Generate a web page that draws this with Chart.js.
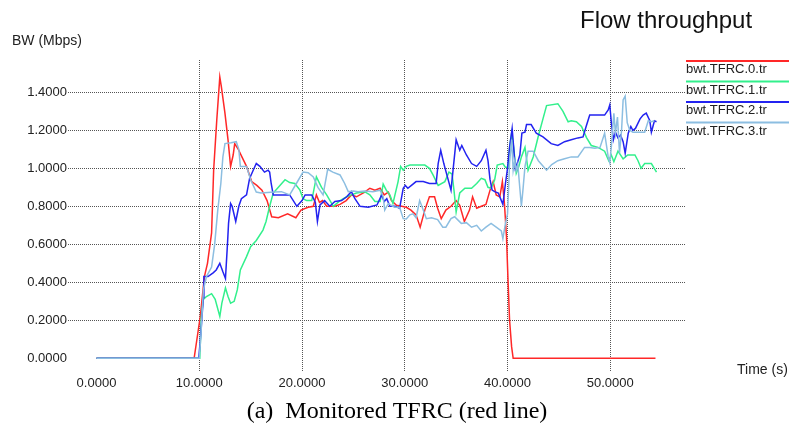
<!DOCTYPE html>
<html>
<head>
<meta charset="utf-8">
<title>Flow throughput</title>
<script src="https://cdn.jsdelivr.net/npm/chart.js@4.4.1/dist/chart.umd.min.js"></script>
<style>
  body { margin: 0; background: #fff; }
  #chart { display: block; }
</style>
</head>
<body>
<canvas id="chart" width="789" height="434"></canvas>
<script>
// Tick labels
const xTicks = [0, 10, 20, 30, 40, 50];
const yTicks = [0, 0.2, 0.4, 0.6, 0.8, 1.0, 1.2, 1.4];

const seriesNames = ["bwt.TFRC.0.tr", "bwt.TFRC.1.tr", "bwt.TFRC.2.tr", "bwt.TFRC.3.tr"];
const seriesColors = ["rgb(255, 40, 40)", "rgb(50, 240, 140)", "rgb(35, 35, 240)", "rgb(140, 190, 225)"];

// TFRC.0 (monitored flow, red)
const tfrc0Time = [0, 9.5, 10.1, 10.5, 10.8, 11.2, 11.4, 11.7, 12.0, 12.15, 12.5, 12.8, 13.05, 13.3, 13.45,
  13.8, 14.15, 14.6, 15.1, 15.6, 16.1, 16.6, 17.05, 17.7, 18.6, 19.4, 19.9, 20.6, 21.1, 21.4, 21.7, 22.0,
  22.4, 23.2, 23.7, 24.3, 24.8, 25.3, 25.8, 26.1, 26.6, 27.1, 27.6, 28.0, 28.4, 28.7, 29.2, 29.7, 30.15,
  30.6, 31.1, 31.5, 31.95, 32.4, 32.9, 33.2, 33.55, 34.0, 34.5, 35.0, 35.35, 35.8, 36.3, 36.6, 37.0, 37.45,
  37.9, 38.3, 38.6, 38.9, 39.25, 39.5, 39.7, 39.9, 40.05, 40.2, 40.4, 40.55, 54.4];
const tfrc0Bw = [0, 0, 0.22, 0.43, 0.50, 0.66, 0.99, 1.25, 1.48, 1.43, 1.29, 1.15, 1.01, 1.07, 1.13,
  1.10, 1.06, 1.01, 0.93, 0.91, 0.885, 0.83, 0.745, 0.74, 0.76, 0.74, 0.78, 0.795, 0.80, 0.86, 0.82, 0.83,
  0.80, 0.80, 0.81, 0.83, 0.86, 0.85, 0.865, 0.875, 0.895, 0.885, 0.895, 0.86, 0.875, 0.83, 0.805, 0.80, 0.795,
  0.78, 0.755, 0.69, 0.78, 0.85, 0.85, 0.79, 0.735, 0.78, 0.80, 0.83, 0.805, 0.72, 0.78, 0.85, 0.79, 0.80,
  0.81, 0.885, 0.93, 0.86, 0.85, 0.93, 0.815, 0.64, 0.41, 0.20, 0.06, 0, 0];

// TFRC.1 (green)
const tfrc1Time = [0, 10.05, 10.2, 10.4, 10.7, 11.2, 11.55, 12.0, 12.2, 12.55, 12.8, 13.05, 13.4, 13.7, 14.0,
  14.6, 15.0, 15.55, 16.2, 16.5, 16.85, 17.2, 17.85, 18.35, 18.8, 19.3, 19.8, 20.1, 20.45, 20.95, 21.4, 21.9,
  22.4, 23.05, 23.7, 24.35, 24.8, 25.3, 26.1, 26.6, 27.1, 27.6, 27.9, 28.2, 28.55, 28.85, 29.35, 29.6, 29.85,
  30.15, 30.5, 31.45, 31.95, 32.4, 32.75, 33.25, 33.9, 34.3, 34.6, 34.8, 35.0, 35.35, 35.85, 36.5, 37.0,
  37.45, 37.8, 38.1, 38.4, 38.75, 39.0, 39.55, 39.8, 40.05, 40.2, 40.4, 40.6, 40.85, 41.1, 41.35, 41.7, 42.0,
  42.5, 43.0, 43.45, 43.8, 44.9, 45.4, 45.9, 46.2, 46.7, 47.2, 47.7, 48.15, 48.8, 49.45, 49.85, 50.1, 50.35,
  50.75, 51.25, 51.7, 52.4, 52.7, 53.0, 53.35, 54.0, 54.5];
const tfrc1Bw = [0, 0, 0.22, 0.31, 0.325, 0.34, 0.31, 0.22, 0.29, 0.37, 0.325, 0.29, 0.30, 0.36, 0.465,
  0.535, 0.587, 0.62, 0.675, 0.72, 0.80, 0.87, 0.91, 0.94, 0.925, 0.92, 0.885, 0.84, 0.83, 0.83, 0.955, 0.90,
  0.86, 0.80, 0.83, 0.85, 0.86, 0.87, 0.877, 0.86, 0.825, 0.825, 0.917, 0.885, 0.86, 0.815, 0.93, 1.01, 0.99,
  1.01, 1.017, 1.017, 1.017, 1.0, 0.965, 0.91, 0.93, 0.98, 0.97, 0.88, 0.77, 0.87, 0.895, 0.895, 0.92,
  0.947, 0.94, 0.90, 0.895, 0.94, 1.017, 1.025, 1.005, 1.005, 1.11, 1.185, 1.11, 0.974, 1.01, 1.06, 1.11, 0.99,
  1.06, 1.17, 1.26, 1.33, 1.34, 1.30, 1.245, 1.25, 1.245, 1.22, 1.16, 1.12, 1.11, 1.09, 1.04, 1.07, 1.035,
  1.09, 1.05, 1.07, 1.07, 1.04, 1.0, 1.025, 1.025, 0.98];

// TFRC.2 (blue)
const tfrc2Time = [0, 9.95, 10.0, 10.15, 10.4, 10.45, 10.85, 11.35, 11.65, 12.0, 12.3, 12.55, 12.75, 12.85, 13.05,
  13.2, 13.55, 13.85, 14.1, 14.6, 14.9, 15.25, 15.55, 15.9, 16.35, 16.7, 16.85, 17.0, 17.2, 18.0, 18.8, 19.5,
  20.0, 20.3, 20.95, 21.3, 21.5, 21.75, 22.2, 22.7, 23.2, 23.85, 24.35, 24.8, 25.15, 25.65, 26.45, 27.3,
  27.75, 28.0, 28.25, 28.55, 29.05, 29.5, 29.85, 30.05, 30.3, 30.65, 31.1, 31.8, 32.4, 33.05, 33.25, 33.5,
  33.8, 34.15, 34.5, 34.7, 35.0, 35.35, 35.55, 36.0, 36.5, 37.0, 37.45, 37.9, 38.1, 38.3, 38.5, 38.75, 39.1,
  39.4, 39.55, 39.8, 40.0, 40.2, 40.45, 40.6, 40.75, 41.0, 41.2, 41.4, 41.7, 41.85, 42.3, 42.8, 43.45, 44.25,
  44.9, 45.55, 46.2, 46.85, 47.35, 47.65, 48.0, 49.45, 49.8, 49.95, 50.1, 50.3, 50.5, 50.75, 51.0, 51.25,
  51.45, 51.75, 52.0, 52.2, 52.45, 52.9, 53.2, 53.5, 53.85, 54.0, 54.15, 54.3, 54.5];
const tfrc2Bw = [0, 0, 0.03, 0.13, 0.32, 0.43, 0.43, 0.45, 0.465, 0.50, 0.455, 0.42, 0.605, 0.71, 0.815,
  0.80, 0.72, 0.80, 0.84, 0.86, 0.947, 0.99, 1.025, 1.01, 0.98, 0.99, 0.98, 0.92, 0.86, 0.86, 0.86, 0.80,
  0.83, 0.86, 0.86, 0.82, 0.72, 0.807, 0.83, 0.80, 0.825, 0.83, 0.85, 0.877, 0.84, 0.80, 0.795, 0.807,
  0.86, 0.825, 0.84, 0.80, 0.80, 0.79, 0.895, 0.91, 0.895, 0.91, 0.93, 0.93, 0.92, 0.92, 1.025, 1.095,
  1.025, 0.955, 0.885, 0.99, 1.15, 1.095, 1.12, 1.07, 1.025, 1.01, 1.04, 1.095, 1.04, 0.94, 0.885, 0.877, 0.87,
  0.83, 0.81, 0.92, 1.0, 1.11, 1.21, 1.11, 1.0, 1.035, 1.07, 1.185, 1.19, 1.23, 1.23, 1.185, 1.165, 1.13,
  1.12, 1.14, 1.15, 1.16, 1.165, 1.22, 1.28, 1.28, 1.307, 1.333, 1.245, 1.15, 1.19, 1.16, 1.175, 1.14,
  1.08, 1.185, 1.22, 1.20, 1.21, 1.26, 1.28, 1.29, 1.25, 1.19, 1.22, 1.25, 1.245];

// TFRC.3 (light blue)
const tfrc3Time = [0, 10.0, 10.15, 10.4, 10.7, 11.2, 11.5, 11.8, 12.1, 12.3, 12.5, 13.1, 13.6, 13.85, 14.0,
  14.6, 15.0, 15.55, 16.0, 17.3, 18.0, 18.8, 19.45, 20.1, 20.6, 21.1, 21.55, 22.05, 22.5, 23.0, 23.7, 24.15,
  24.5, 25.0, 25.45, 26.1, 26.9, 27.6, 27.9, 28.05, 28.4, 28.7, 29.0, 29.5, 29.85, 30.15, 30.5, 30.8, 31.1,
  31.45, 31.8, 32.1, 32.6, 33.2, 33.7, 34.0, 34.5, 34.85, 35.5, 36.0, 36.5, 37.0, 37.45, 37.9, 38.4, 38.9,
  39.4, 39.55, 39.8, 40.0, 40.1, 40.2, 40.4, 40.55, 40.7, 40.85, 41.0, 41.35, 41.5, 41.7, 42.0, 42.5, 43.0,
  43.8, 44.3, 44.9, 45.55, 46.2, 46.85, 47.5, 48.0, 48.5, 49.0, 49.45, 49.8, 49.95, 50.1, 50.35, 50.5, 50.7,
  50.9, 51.1, 51.25, 51.45, 51.65, 51.9, 52.2, 52.7, 53.35, 53.7, 54.0, 54.3];
const tfrc3Bw = [0, 0, 0.11, 0.36, 0.43, 0.48, 0.60, 0.78, 0.92, 1.06, 1.13, 1.135, 1.14, 1.10, 1.01,
  1.01, 0.94, 0.875, 0.87, 0.875, 0.877, 0.86, 0.92, 0.98, 0.977, 0.955, 0.90, 0.86, 0.995, 0.98, 0.965, 0.92,
  0.877, 0.88, 0.877, 0.88, 0.877, 0.885, 0.85, 0.78, 0.815, 0.805, 0.795, 0.795, 0.735, 0.733, 0.755, 0.76,
  0.74, 0.83, 0.78, 0.735, 0.74, 0.73, 0.69, 0.69, 0.735, 0.745, 0.71, 0.714, 0.69, 0.70, 0.67, 0.69, 0.71,
  0.69, 0.67, 0.63, 0.71, 0.76, 0.885, 1.03, 1.15, 0.99, 1.04, 0.99, 1.02, 0.80, 0.885, 1.01, 1.09, 1.09,
  1.04, 0.99, 1.02, 1.04, 1.05, 1.06, 1.06, 1.11, 1.11, 1.105, 1.11, 1.185, 1.06, 1.03, 1.11, 1.29, 1.185,
  1.27, 1.08, 1.20, 1.36, 1.38, 1.24, 1.20, 1.19, 1.19, 1.19, 1.25, 1.245, 1.25];

const seriesTime = [tfrc0Time, tfrc1Time, tfrc2Time, tfrc3Time];
const seriesBw = [tfrc0Bw, tfrc1Bw, tfrc2Bw, tfrc3Bw];

const gridColor = (ctx) => (ctx.tick && ctx.tick.value === 0 ? "rgba(0,0,0,0)" : "#555");

// Titles, axis names, legend and caption drawn round the plot
const textPlugin = {
  id: "texts",
  afterDraw(chart) {
    const c = chart.ctx;
    c.save();
    c.fillStyle = "#111";
    c.textBaseline = "middle";
    c.textAlign = "left";
    c.font = "24px 'Liberation Sans', Arial, sans-serif";
    c.fillText("Flow throughput", 580, 21);
    c.font = "14px 'Liberation Sans', Arial, sans-serif";
    c.fillStyle = "#222";
    c.fillText("BW (Mbps)", 12, 41);
    c.fillText("Time (s)", 737, 370);

    // legend
    c.font = "13px 'Liberation Sans', Arial, sans-serif";
    chart.data.datasets.forEach((ds, i) => {
      const top = 61 + i * 20.5;
      c.strokeStyle = ds.borderColor;
      c.lineWidth = 2;
      c.beginPath();
      c.moveTo(686, top);
      c.lineTo(789, top);
      c.stroke();
      c.fillStyle = "#222";
      c.fillText(ds.label, 686, top + 8.5);
    });

    // caption
    c.fillStyle = "#000";
    c.textAlign = "center";
    c.font = "24px 'Liberation Serif', 'Times New Roman', serif";
    c.fillText("(a)  Monitored TFRC (red line)", 397, 412);
    c.restore();
  },
};

const ctx = document.getElementById("chart");

new Chart(ctx, {
  type: "line",
  data: {
    datasets: seriesNames.map((name, i) => ({
      label: name,
      data: seriesTime[i].map((t, k) => ({ x: t, y: seriesBw[i][k] })),
      borderColor: seriesColors[i],
      backgroundColor: seriesColors[i],
      borderWidth: 1.5,
      pointRadius: 0,
      tension: 0,
      fill: false,
      order: 3 - i,
    })),
  },
  options: {
    responsive: false,
    animation: false,
    layout: { padding: { top: 60, right: 103, left: 0, bottom: 0 } },
    plugins: {
      legend: { display: false },
      tooltip: { enabled: false },
    },
    scales: {
      x: {
        type: "linear",
        min: -2.774,
        max: 57.37,
        afterBuildTicks: (scale) => {
          scale.ticks = xTicks.map((v) => ({ value: v }));
        },
        afterFit: (scale) => {
          scale.height = 62;
        },
        ticks: {
          padding: 4,
          maxRotation: 0,
          autoSkip: false,
          color: "#222",
          font: { family: "'Liberation Sans', Arial, sans-serif", size: 13 },
          callback: (v) => Number(v).toFixed(4),
        },
        grid: { color: gridColor, drawTicks: false, lineWidth: 1 },
        border: { display: false, dash: [1, 1] },
      },
      y: {
        min: -0.0721,
        max: 1.57,
        afterBuildTicks: (scale) => {
          scale.ticks = yTicks.map((v) => ({ value: v }));
        },
        afterFit: (scale) => {
          scale.width = 68;
        },
        ticks: {
          padding: 1,
          autoSkip: false,
          color: "#222",
          font: { family: "'Liberation Sans', Arial, sans-serif", size: 13 },
          callback: (v) => Number(v).toFixed(4),
        },
        grid: { color: gridColor, drawTicks: false, lineWidth: 1 },
        border: { display: false, dash: [1, 1] },
      },
    },
  },
  plugins: [textPlugin],
});
</script>
</body>
</html>
